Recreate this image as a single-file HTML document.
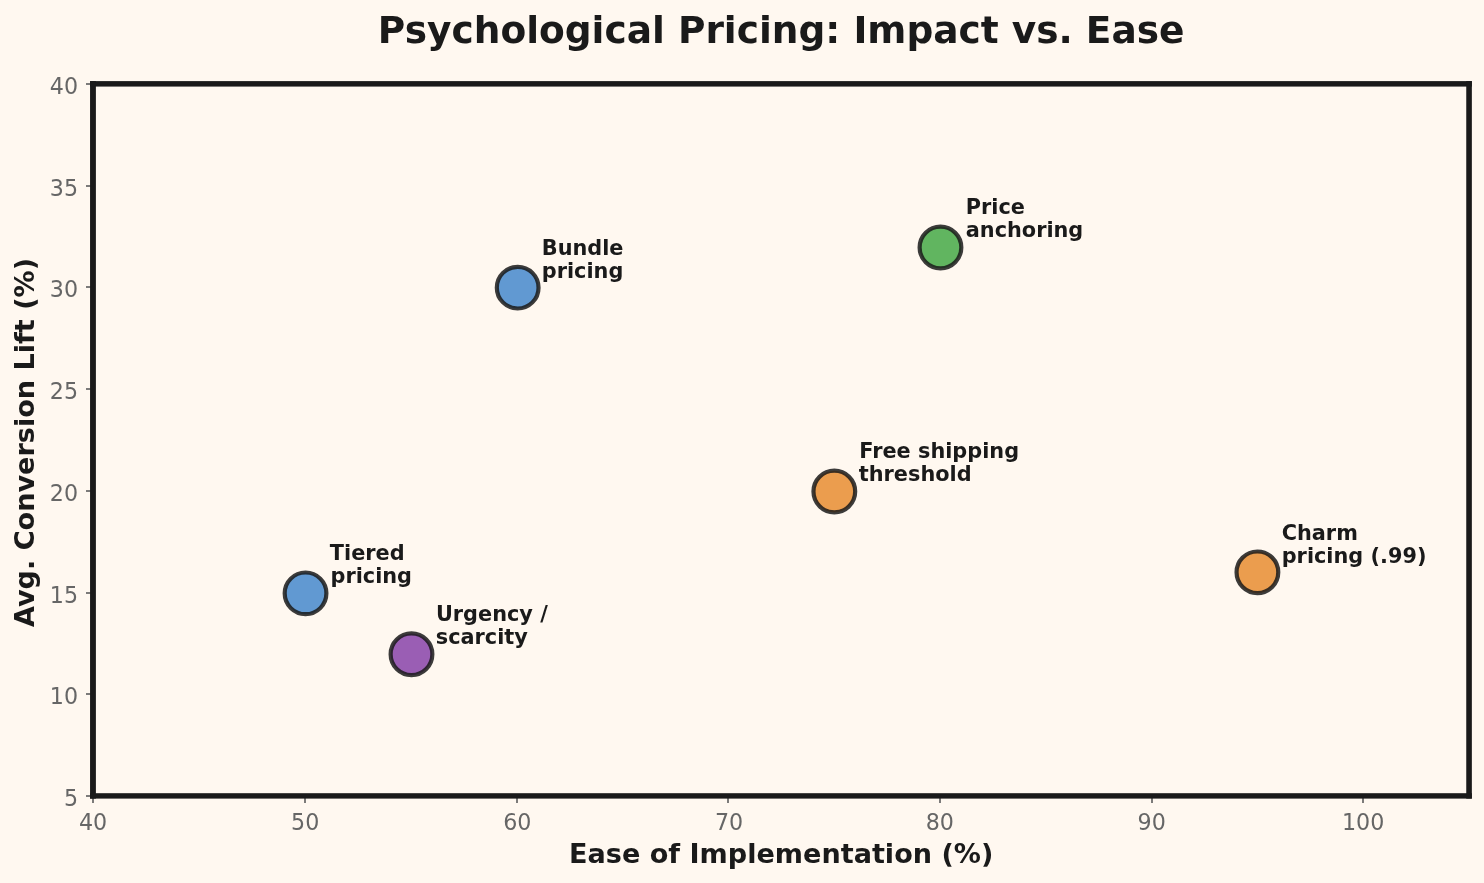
<!DOCTYPE html>
<html lang="en"><head><meta charset="utf-8"><title>Psychological Pricing: Impact vs. Ease</title>
<style>
html,body{margin:0;padding:0;background:#fff8f0;}
body{width:1484px;height:883px;overflow:hidden;}
svg{display:block;}
text{font-family:"DejaVu Sans","Liberation Sans",sans-serif;}
.t{fill:#666666;font-size:22.2px;}
.l{fill:#1a1a1a;font-size:20.83px;font-weight:bold;}
.ax{fill:#1a1a1a;font-size:27.08px;font-weight:bold;}
.ttl{fill:#1a1a1a;font-size:37.5px;font-weight:bold;}
</style></head><body>
<svg width="1484" height="883" viewBox="0 0 1484 883">
<rect width="1484" height="883" fill="#fff8f0"/>
<g fill="#666666" fill-opacity="0.86">
<rect x="92" y="796" width="2" height="7"/>
<rect x="304" y="796" width="2" height="7"/>
<rect x="516" y="796" width="2" height="7"/>
<rect x="727" y="796" width="2" height="7"/>
<rect x="939" y="796" width="2" height="7"/>
<rect x="1151" y="796" width="2" height="7"/>
<rect x="1362" y="796" width="2" height="7"/>
<rect x="86" y="795" width="7" height="2"/>
<rect x="86" y="693" width="7" height="2"/>
<rect x="86" y="592" width="7" height="2"/>
<rect x="86" y="490" width="7" height="2"/>
<rect x="86" y="388" width="7" height="2"/>
<rect x="86" y="286" width="7" height="2"/>
<rect x="86" y="185" width="7" height="2"/>
<rect x="86" y="83" width="7" height="2"/>
</g>
<text class="t" x="93.00" y="829.6" text-anchor="middle">40</text>
<text class="t" x="305.19" y="829.6" text-anchor="middle">50</text>
<text class="t" x="517.38" y="829.6" text-anchor="middle">60</text>
<text class="t" x="729.08" y="829.6" text-anchor="middle">70</text>
<text class="t" x="939.77" y="829.6" text-anchor="middle">80</text>
<text class="t" x="1151.66" y="829.6" text-anchor="middle">90</text>
<text class="t" x="1363.15" y="829.6" text-anchor="middle">100</text>
<text class="t" x="78.1" y="806.10" text-anchor="end">5</text>
<text class="t" x="78.1" y="704.10" text-anchor="end">10</text>
<text class="t" x="78.1" y="603.10" text-anchor="end">15</text>
<text class="t" x="78.1" y="501.10" text-anchor="end">20</text>
<text class="t" x="78.1" y="399.10" text-anchor="end">25</text>
<text class="t" x="78.1" y="297.10" text-anchor="end">30</text>
<text class="t" x="78.1" y="196.10" text-anchor="end">35</text>
<text class="t" x="78.1" y="94.10" text-anchor="end">40</text>
<g fill="#1a1a1a">
<rect x="90.05" y="81.1" width="1381.8" height="5.48"/>
<rect x="90.05" y="793.2" width="1381.8" height="5.4"/>
<rect x="90.05" y="81.1" width="5.85" height="717.5"/>
<rect x="1466.25" y="81.1" width="5.6" height="717.5"/>
</g>
<circle cx="517.68" cy="287.63" r="20.85" fill="#6199d2" stroke="#1a1a1a" stroke-opacity="0.85" stroke-width="4.2"/>
<text class="l" x="541.78" y="254.53">Bundle</text>
<text class="l" x="541.78" y="278.33">pricing</text>
<circle cx="940.47" cy="247.44" r="20.85" fill="#61b560" stroke="#1a1a1a" stroke-opacity="0.85" stroke-width="4.2"/>
<text class="l" x="965.77" y="213.84">Price</text>
<text class="l" x="965.77" y="236.64">anchoring</text>
<circle cx="834.32" cy="491.56" r="20.85" fill="#eb9d4e" stroke="#1a1a1a" stroke-opacity="0.85" stroke-width="4.2"/>
<text class="l" x="859.32" y="457.96">Free shipping</text>
<text class="l" x="858.82" y="480.76">threshold</text>
<circle cx="1257.41" cy="572.33" r="20.85" fill="#eb9d4e" stroke="#1a1a1a" stroke-opacity="0.85" stroke-width="4.2"/>
<text class="l" x="1281.71" y="540.33">Charm</text>
<text class="l" x="1281.71" y="563.23">pricing (.99)</text>
<circle cx="305.54" cy="593.37" r="20.85" fill="#6199d2" stroke="#1a1a1a" stroke-opacity="0.85" stroke-width="4.2"/>
<text class="l" x="329.79" y="559.67">Tiered</text>
<text class="l" x="330.49" y="583.47">pricing</text>
<circle cx="411.49" cy="654.30" r="20.85" fill="#9a5eb4" stroke="#1a1a1a" stroke-opacity="0.85" stroke-width="4.2"/>
<text class="l" x="435.94" y="620.70">Urgency /</text>
<text class="l" x="435.74" y="643.50">scarcity</text>
<text class="ttl" x="781.2" y="43" text-anchor="middle">Psychological Pricing: Impact vs. Ease</text>
<text class="ax" x="781.2" y="862.7" text-anchor="middle">Ease of Implementation (%)</text>
<text class="ax" transform="translate(34,442.5) rotate(-90)" text-anchor="middle">Avg. Conversion Lift (%)</text>
</svg>
</body></html>
